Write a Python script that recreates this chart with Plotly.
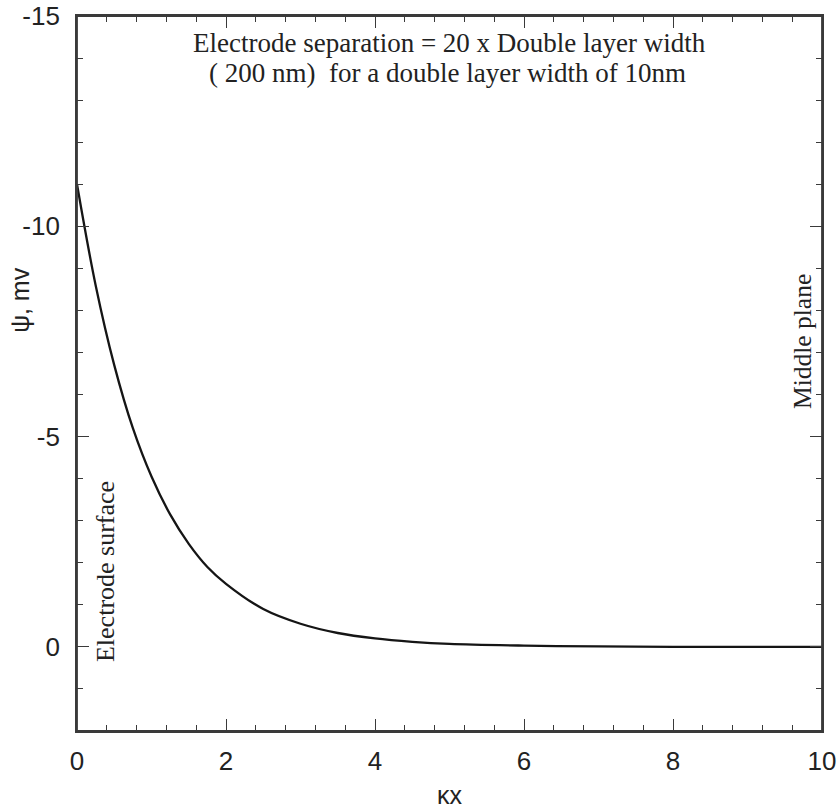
import plotly.graph_objects as go

# Data
kx = [0, 0.25, 0.5, 0.75, 1.0, 1.25, 1.5, 1.75, 2.0, 2.5, 3.0, 3.5, 4.0, 4.5, 5.0, 6.0, 7.0, 8.0, 9.0, 10.0]
psi = [-11.0, -8.6, -6.7, -5.2, -4.05, -3.15, -2.45, -1.9, -1.5, -0.9, -0.55, -0.33, -0.2, -0.12,
       -0.07, -0.03, -0.01, 0.0, 0.0, 0.0]

x_ticks = [0, 2, 4, 6, 8, 10]
y_ticks = [-15, -10, -5, 0]
x_range = [0, 10]
y_range = [2, -15]

note_line1 = "Electrode separation = 20 x Double layer width"
note_line2 = "( 200 nm)  for a double layer width of 10nm"

serif = "Liberation Serif, Times New Roman, serif"
sans = "Liberation Sans, Arial, sans-serif"
ink = "#222222"
axc = "#3a3a3a"

fig = go.Figure()
fig.add_trace(go.Scatter(x=kx, y=psi, mode="lines", line=dict(color="#151515", width=2.3, shape="spline"),
                         showlegend=False, hoverinfo="skip"))
# helper (invisible) trace so the top/right frame axes are drawn
fig.add_trace(go.Scatter(x=kx, y=psi, xaxis="x2", yaxis="y2", mode="lines",
                         line=dict(color="rgba(0,0,0,0)", width=0), showlegend=False, hoverinfo="skip"))

axis_common = dict(ticks="inside", ticklen=12, tickwidth=1.3, tickcolor=axc, showline=True,
                   linecolor=axc, linewidth=1.8, showgrid=False, zeroline=False,
                   tickfont=dict(size=26, family=sans, color=ink), automargin=False,
                   ticklabeloverflow="allow")

fig.update_layout(
    width=840, height=808,
    margin=dict(l=77, r=18, t=16, b=77, autoexpand=False),
    paper_bgcolor="white", plot_bgcolor="white",
    font=dict(family=sans, color=ink),
    xaxis=dict(range=x_range, tickvals=x_ticks, ticklabelstandoff=6,
               minor=dict(dtick=0.4, ticks="inside", ticklen=6, tickcolor=axc, showgrid=False),
               **axis_common),
    yaxis=dict(range=y_range, tickvals=y_ticks, ticktext=[str(v) for v in y_ticks], ticklabelstandoff=10,
               minor=dict(dtick=1, ticks="inside", ticklen=6, tickcolor=axc, showgrid=False),
               **axis_common),
    xaxis2=dict(range=x_range, tickvals=x_ticks, overlaying="x", side="top", anchor="y2",
                showticklabels=False,
                minor=dict(dtick=0.4, ticks="inside", ticklen=6, tickcolor=axc, showgrid=False),
                **axis_common),
    yaxis2=dict(range=y_range, tickvals=y_ticks, overlaying="y", side="right", anchor="x2",
                showticklabels=False,
                minor=dict(dtick=1, ticks="inside", ticklen=6, tickcolor=axc, showgrid=False),
                **axis_common),
)

# full frame around the plot area
fig.add_shape(type="rect", xref="paper", yref="paper", x0=0, x1=1, y0=0, y1=1,
              line=dict(color=axc, width=1.8), fillcolor="rgba(0,0,0,0)", layer="above")

# axis titles
fig.add_annotation(x=-0.0765, y=0.603, xref="paper", yref="paper", text="ψ, mv", showarrow=False,
                   xanchor="center", yanchor="middle", textangle=-90,
                   font=dict(family=sans, size=25, color=ink))
fig.add_annotation(x=0.5, y=-0.0895, xref="paper", yref="paper", text="κx", showarrow=False,
                   xanchor="center", yanchor="middle", font=dict(family=sans, size=25, color=ink))

# in-plot notes
fig.add_annotation(x=5.0, y=-14.36, xref="x", yref="y", text=note_line1, showarrow=False,
                   xanchor="center", yanchor="middle", font=dict(family=serif, size=27, color=ink))
fig.add_annotation(x=4.97, y=-13.64, xref="x", yref="y", text=note_line2, showarrow=False,
                   xanchor="center", yanchor="middle", font=dict(family=serif, size=27, color=ink))
fig.add_annotation(x=0.376, y=-1.78, xref="x", yref="y", text="Electrode surface", showarrow=False,
                   xanchor="center", yanchor="middle", textangle=-90,
                   font=dict(family=serif, size=26, color=ink))
fig.add_annotation(x=9.73, y=-7.27, xref="x", yref="y", text="Middle plane", showarrow=False,
                   xanchor="center", yanchor="middle", textangle=-90,
                   font=dict(family=serif, size=25.5, color=ink))

# remove the page's default body margin so the 840x808 figure fills the window exactly
fig.write_html("out.html", config={"displayModeBar": False},
               post_script="document.body.style.margin='0';")
